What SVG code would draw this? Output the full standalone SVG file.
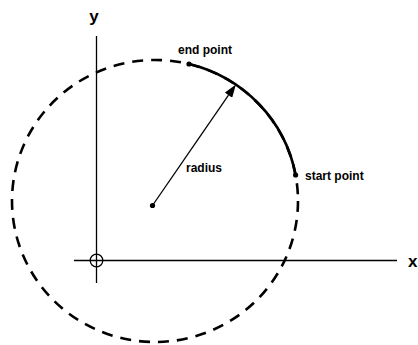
<svg xmlns="http://www.w3.org/2000/svg" width="418" height="345" viewBox="0 0 418 345">
<style>
.axis{stroke:#000;stroke-width:1.3;fill:none}
.dash{stroke:#000;stroke-width:2.6;fill:none;stroke-dasharray:11 8}
.arc{stroke:#000;stroke-width:2.6;fill:none}
.dot{fill:#000}
.lbl{font-family:"Liberation Sans",Arial,sans-serif;font-weight:bold;font-size:12px;fill:#000}
.ax{font-family:"Liberation Sans",Arial,sans-serif;font-weight:bold;font-size:17px;fill:#000}
</style>
<defs>
<marker id="arr" viewBox="0 0 13 9" refX="0" refY="4.5" markerWidth="13" markerHeight="9" orient="auto" markerUnits="userSpaceOnUse">
<path d="M0,0 L13,4.5 L0,9 z" fill="#000"/>
</marker>
</defs>
<rect width="418" height="345" fill="#fff"/>
<g id="axes">
<line class="axis" x1="96.5" y1="36" x2="96.5" y2="283"/>
<line class="axis" x1="74" y1="260.5" x2="397" y2="260.5"/>
<circle class="axis" cx="96.5" cy="260.5" r="6.3"/>
<text class="ax" x="94" y="22" text-anchor="middle">y</text>
<text class="ax" x="408" y="267" font-size="15">x</text>
</g>
<g id="circle">
<ellipse class="dash" cx="155" cy="201" rx="143" ry="141"/>
</g>
<g id="arc">
<path class="arc" d="M295.6,175 A143,141 0 0 0 189,64"/>
</g>
<g id="center">
<circle class="dot" cx="152.5" cy="205.5" r="2.6"/>
</g>
<g id="end-point">
<circle class="dot" cx="189" cy="64" r="2.6"/>
<text class="lbl" x="178" y="54">end point</text>
</g>
<g id="start-point">
<circle class="dot" cx="295.6" cy="175" r="2.6"/>
<text class="lbl" x="305" y="180">start point</text>
</g>
<g id="connectors">
<line class="axis" x1="152.5" y1="205.5" x2="228.5" y2="95.2" marker-end="url(#arr)"/>
<text class="lbl" x="186" y="172">radius</text>
</g>
</svg>
